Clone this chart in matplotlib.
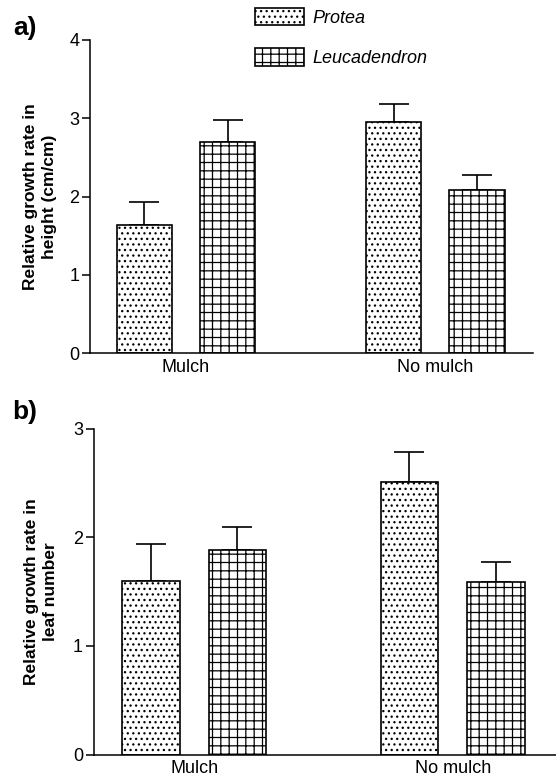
import numpy as np
import matplotlib
matplotlib.use("Agg")
from matplotlib import pyplot as plt

plt.rcParams['font.family'] = ['Liberation Sans', 'DejaVu Sans']
plt.rcParams['hatch.linewidth'] = 0.9
plt.rcParams['hatch.color'] = 'black'

categories = ["Mulch", "No mulch"]
species = ["Protea", "Leucadendron"]

# a) relative growth rate in height
height_protea = [1.64, 2.95]
height_protea_err = [0.29, 0.23]
height_leuca = [2.70, 2.08]
height_leuca_err = [0.28, 0.20]

# b) relative growth rate in leaf number
leaf_protea = [1.60, 2.51]
leaf_protea_err = [0.34, 0.27]
leaf_leuca = [1.885, 1.59]
leaf_leuca_err = [0.205, 0.18]

W, H = 556, 778
fig = plt.figure(figsize=(W / 100, H / 100), dpi=100)

ax_a = fig.add_axes([90 / W, 1 - 353.3 / H, 443 / W, 313.3 / H])
ax_b = fig.add_axes([93.5 / W, 1 - 754.7 / H, 462.5 / W, 326.2 / H])

x = np.arange(len(categories))
offset = 0.167
width = 0.223
hatches = ['...', '++']


def draw_panel(ax, protea, protea_err, leuca, leuca_err, ymax, ylabel):
    bars = []
    for i, (vals, errs) in enumerate([(protea, protea_err), (leuca, leuca_err)]):
        pos = x + (i * 2 - 1) * offset
        b = ax.bar(pos, vals, width, color='white', edgecolor='black',
                   linewidth=1.2, hatch=hatches[i], label=species[i], zorder=2)
        ax.errorbar(pos, vals, yerr=[np.zeros(len(vals)), errs], fmt='none',
                    ecolor='black', elinewidth=1.2, capsize=10.6, capthick=1.2,
                    zorder=1)
        bars.append(b)
    ax.set_ylim(0, ymax)
    ax.set_yticks(np.arange(0, ymax + 1))
    ax.set_xticks(x)
    ax.set_xticklabels(categories)
    ax.spines['top'].set_visible(False)
    ax.spines['right'].set_visible(False)
    ax.spines['left'].set_linewidth(1.1)
    ax.spines['bottom'].set_linewidth(1.1)
    ax.tick_params(axis='y', length=5.5, width=1.1, labelsize=13, pad=2)
    ax.tick_params(axis='x', length=0, labelsize=13, pad=4)
    ax.set_ylabel(ylabel, fontsize=12.5, fontweight='bold', linespacing=1.35)
    return bars


bars = draw_panel(ax_a, height_protea, height_protea_err, height_leuca,
                  height_leuca_err, 4, "Relative growth rate in\nheight (cm/cm)")
ax_a.set_xlim(-0.385, 1.392)
ax_a.yaxis.set_label_coords(-0.075, 0.5)

draw_panel(ax_b, leaf_protea, leaf_protea_err, leaf_leuca, leaf_leuca_err,
           3, "Relative growth rate in\nleaf number")
ax_b.set_xlim(-0.39, 1.40)
ax_b.yaxis.set_label_coords(-0.076, 0.5)

fig.text(13 / W, 1 - 28 / H, "a)", fontsize=19, fontweight='bold', va='center')
fig.text(12 / W, 1 - 412 / H, "b)", fontsize=19, fontweight='bold', va='center')

leg = fig.legend(handles=bars, labels=species, loc='upper left',
                 bbox_to_anchor=(255 / W, 1 - 8 / H), frameon=False,
                 borderpad=0, borderaxespad=0, handlelength=2.7, handleheight=1.1,
                 labelspacing=1.2, handletextpad=0.5,
                 prop={'size': 13, 'style': 'italic'})

plt.savefig("out.png", dpi=100)
